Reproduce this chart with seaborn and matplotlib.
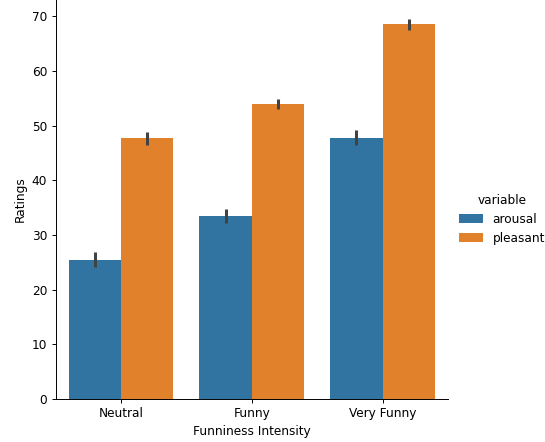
import matplotlib
matplotlib.use("Agg")
import matplotlib.pyplot as plt
import seaborn as sns
import pandas as pd
import numpy as np

categories = ["Neutral", "Funny", "Very Funny"]
variables = ["arousal", "pleasant"]
arousal_mean = [25.4, 33.5, 47.8]
pleasant_mean = [47.7, 54.0, 68.6]
arousal_lo = [24.2, 32.2, 46.5]
arousal_hi = [26.8, 34.8, 49.2]
pleasant_lo = [46.5, 53.1, 67.6]
pleasant_hi = [48.8, 54.9, 69.6]

rows = []
for i, c in enumerate(categories):
    rows.append({"Funniness Intensity": c, "variable": "arousal", "Ratings": arousal_mean[i],
                 "lo": arousal_lo[i], "hi": arousal_hi[i]})
    rows.append({"Funniness Intensity": c, "variable": "pleasant", "Ratings": pleasant_mean[i],
                 "lo": pleasant_lo[i], "hi": pleasant_hi[i]})
df = pd.DataFrame(rows)

dpi = 87
fig = plt.figure(figsize=(545 / dpi, 442 / dpi), dpi=dpi)
ax = fig.add_axes([0.102, 0.0977, 0.72, 0.9023])

sns.barplot(data=df, x="Funniness Intensity", y="Ratings", hue="variable",
            hue_order=variables, order=categories, palette="tab10",
            errorbar=None, ax=ax)

# error bars at bar centres (bars sorted left to right)
bars = sorted([p for p in ax.patches if p.get_height() > 0], key=lambda p: p.get_x())
los = df["lo"].tolist()
his = df["hi"].tolist()
for p, lo, hi in zip(bars, los, his):
    xc = p.get_x() + p.get_width() / 2
    ax.vlines(xc, lo, hi, color=".26", linewidth=2.5, zorder=5)

ax.set_ylim(0, 73)
ax.set_xlim(-0.5, 2.5)
ax.set_yticks(range(0, 71, 10))
sns.despine(ax=ax)

leg = ax.legend(title="variable", frameon=False, loc="center left",
                bbox_to_anchor=(1.0, 0.45))
plt.savefig("out.png", dpi=dpi)
